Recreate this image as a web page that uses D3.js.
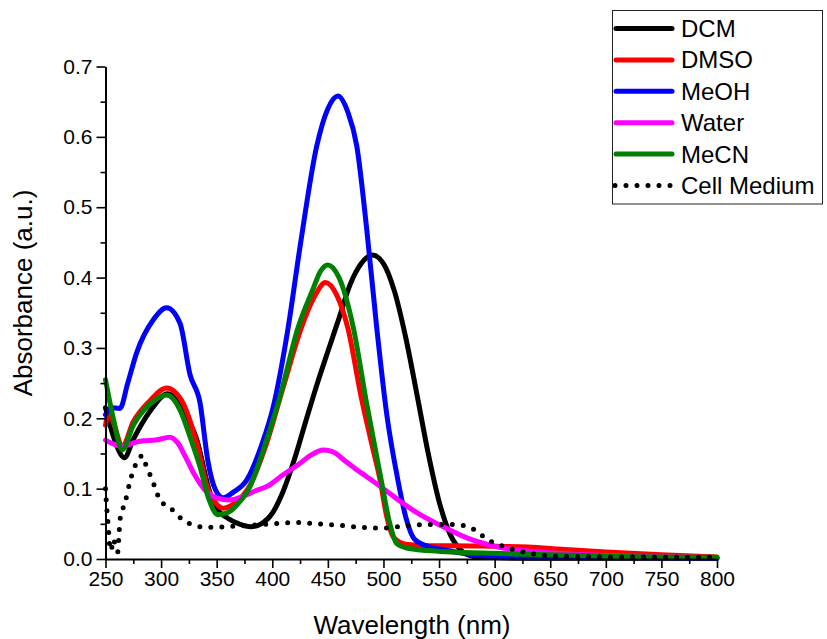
<!DOCTYPE html>
<html><head><meta charset="utf-8">
<script src="https://cdn.jsdelivr.net/npm/d3@7"></script>
<style>body{margin:0;background:#fff}svg{display:block}</style>
</head><body>
<script>
// ---- data ----
const seriesNames = ["DCM","DMSO","MeOH","Water","MeCN","Cell Medium"];
const seriesColors = ["#000000","#ff0000","#0000ff","#ff00ff","#008000","#000000"];
const xTicks = [250,300,350,400,450,500,550,600,650,700,750,800];
const yTicks = [0.0,0.1,0.2,0.3,0.4,0.5,0.6,0.7];

const dcm = [[250,0.215],[258,0.17],[267,0.144],[275,0.17],[290,0.21],[306,0.235],[320,0.21],[332,0.17],[344,0.094],[350,0.072],[360,0.058],[370,0.05],[381,0.046],[390,0.05],[400,0.065],[410,0.097],[420,0.142],[430,0.195],[440,0.247],[450,0.295],[460,0.342],[470,0.39],[480,0.42],[490,0.432],[500,0.42],[510,0.38],[520,0.315],[530,0.235],[540,0.152],[550,0.082],[560,0.035],[570,0.012],[580,0.004],[600,0.002],[650,0.001],[800,0.001]];
const dmso = [[250,0.19],[253,0.21],[258,0.19],[265,0.16],[275,0.195],[290,0.225],[305,0.243],[312,0.238],[320,0.221],[332,0.165],[342,0.1],[350,0.078],[356,0.072],[365,0.078],[380,0.105],[395,0.165],[410,0.245],[426,0.328],[437,0.37],[448,0.393],[458,0.375],[468,0.328],[480,0.23],[490,0.16],[497,0.112],[503,0.06],[509,0.031],[520,0.021],[540,0.019],[560,0.019],[600,0.018],[630,0.017],[660,0.014],[700,0.01],[750,0.006],[800,0.003]];
const meoh = [[250,0.205],[255,0.215],[263,0.214],[270,0.25],[278,0.293],[293,0.34],[305,0.357],[317,0.335],[326,0.262],[335,0.222],[342,0.14],[349,0.098],[356,0.087],[365,0.095],[377,0.112],[390,0.16],[401,0.217],[414,0.326],[425,0.444],[440,0.587],[450,0.64],[459,0.658],[468,0.635],[476,0.587],[485,0.468],[494,0.328],[503,0.205],[513,0.112],[520,0.06],[528,0.028],[540,0.018],[555,0.013],[580,0.006],[600,0.004],[700,0.002],[800,0.001]];
const water = [[250,0.169],[258,0.163],[266,0.16],[275,0.165],[284,0.168],[295,0.169],[308,0.173],[315,0.165],[322,0.145],[330,0.12],[340,0.097],[350,0.087],[362,0.084],[375,0.09],[385,0.097],[395,0.103],[410,0.12],[425,0.136],[435,0.148],[446,0.155],[455,0.152],[465,0.14],[475,0.128],[485,0.117],[500,0.1],[515,0.082],[533,0.063],[551,0.048],[575,0.03],[602,0.0175],[650,0.009],[700,0.005],[750,0.003],[800,0.002]];
const mecn = [[250,0.255],[257,0.2],[265,0.155],[275,0.19],[290,0.22],[305,0.233],[317,0.212],[326,0.174],[335,0.131],[343,0.085],[351,0.063],[360,0.066],[370,0.08],[380,0.103],[393,0.16],[407,0.231],[423,0.328],[437,0.385],[443,0.408],[450,0.418],[460,0.4],[473,0.328],[485,0.22],[498,0.112],[505,0.055],[512,0.022],[520,0.016],[540,0.012],[560,0.01],[600,0.008],[660,0.0057],[700,0.004],[800,0.0024]];
const cellMedium = [[250,0.1],[251,0.075],[252,0.055],[253,0.035],[254,0.015],[255,0.012],[257,0.028],[259,0.018],[261,0.01],[262,0.03],[263,0.055],[265,0.068],[268,0.083],[272,0.11],[276,0.13],[280,0.142],[283,0.147],[286,0.135],[290,0.12],[295,0.1],[300,0.08],[305,0.077],[310,0.07],[315,0.062],[320,0.055],[330,0.048],[340,0.045],[350,0.045],[360,0.046],[380,0.048],[400,0.05],[420,0.052],[440,0.05],[460,0.048],[480,0.045],[500,0.044],[520,0.047],[540,0.049],[560,0.049],[570,0.048],[578,0.045],[586,0.037],[594,0.027],[603,0.021],[613,0.015],[623,0.011],[632,0.008],[642,0.0057],[652,0.004],[700,0.003],[800,0.0024]];
const seriesData = [dcm, dmso, meoh, water, mecn, cellMedium];

// ---- drawing ----
const W = 827, H = 639;
const svg = d3.select("body").append("svg").attr("width",W).attr("height",H)
  .style("font-family","Arial, 'Liberation Sans', sans-serif");
const x = d3.scaleLinear().domain([250,800]).range([105.5,717]);
const y = d3.scaleLinear().domain([0,0.7]).range([559,66.5]);

const line = d3.line().x(d=>x(d[0])).y(d=>y(d[1])).curve(d3.curveMonotoneX);
const plot = svg.append("g");
seriesData.forEach((s,i)=>{
  const p = plot.append("path").datum(s).attr("d",line).attr("fill","none")
    .attr("stroke",seriesColors[i]).attr("stroke-linejoin","round")
    .attr("stroke-width",5).attr("stroke-linecap","round");
  if(i===5) p.attr("stroke-dasharray","0 11");
});

// axes
const xMinor = d3.range(275,800,50);
const yMinor = d3.range(0.05,0.7,0.1);
const gx = svg.append("g").attr("transform",`translate(0,${y(0)})`);
gx.call(d3.axisBottom(x).tickValues(xTicks).tickFormat(d3.format("d")).tickSize(9).tickSizeOuter(0).tickPadding(3));
gx.append("g").call(d3.axisBottom(x).tickValues(xMinor).tickFormat("").tickSize(5).tickSizeOuter(0)).select(".domain").remove();
const gy = svg.append("g").attr("transform",`translate(${x(250)},0)`);
gy.call(d3.axisLeft(y).tickValues(yTicks).tickFormat(d3.format(".1f")).tickSize(9).tickSizeOuter(0).tickPadding(4));
gy.append("g").call(d3.axisLeft(y).tickValues(yMinor).tickFormat("").tickSize(5).tickSizeOuter(0)).select(".domain").remove();
svg.selectAll(".domain").attr("stroke","#000").attr("stroke-width",2);
svg.selectAll(".tick line").attr("stroke","#000").attr("stroke-width",1.6);
svg.selectAll(".tick text").attr("fill","#000").style("font-size","21px").style("font-family","Arial, 'Liberation Sans', sans-serif");

svg.append("text").attr("x",412).attr("y",634).attr("text-anchor","middle")
  .style("font-size","26px").text("Wavelength (nm)");
svg.append("text").attr("transform","translate(32,293) rotate(-90)").attr("text-anchor","middle")
  .style("font-size","26px").text("Absorbance (a.u.)");

// legend
const lg = svg.append("g");
lg.append("rect").attr("x",612.5).attr("y",10.5).attr("width",210).attr("height",193.5)
  .attr("fill","#fff").attr("stroke","#222").attr("stroke-width",1);
seriesNames.forEach((n,i)=>{
  const cy = 28.5 + i*31.4;
  const l = lg.append("line").attr("x1",616).attr("x2",672).attr("y1",cy).attr("y2",cy)
    .attr("stroke",seriesColors[i]).attr("stroke-width",5).attr("stroke-linecap","round");
  if(i===5) l.attr("x1",615).attr("stroke-dasharray","0 11");
  lg.append("text").attr("x",681).attr("y",cy+8.5).style("font-size","24px").text(n);
});
</script>
</body></html>
